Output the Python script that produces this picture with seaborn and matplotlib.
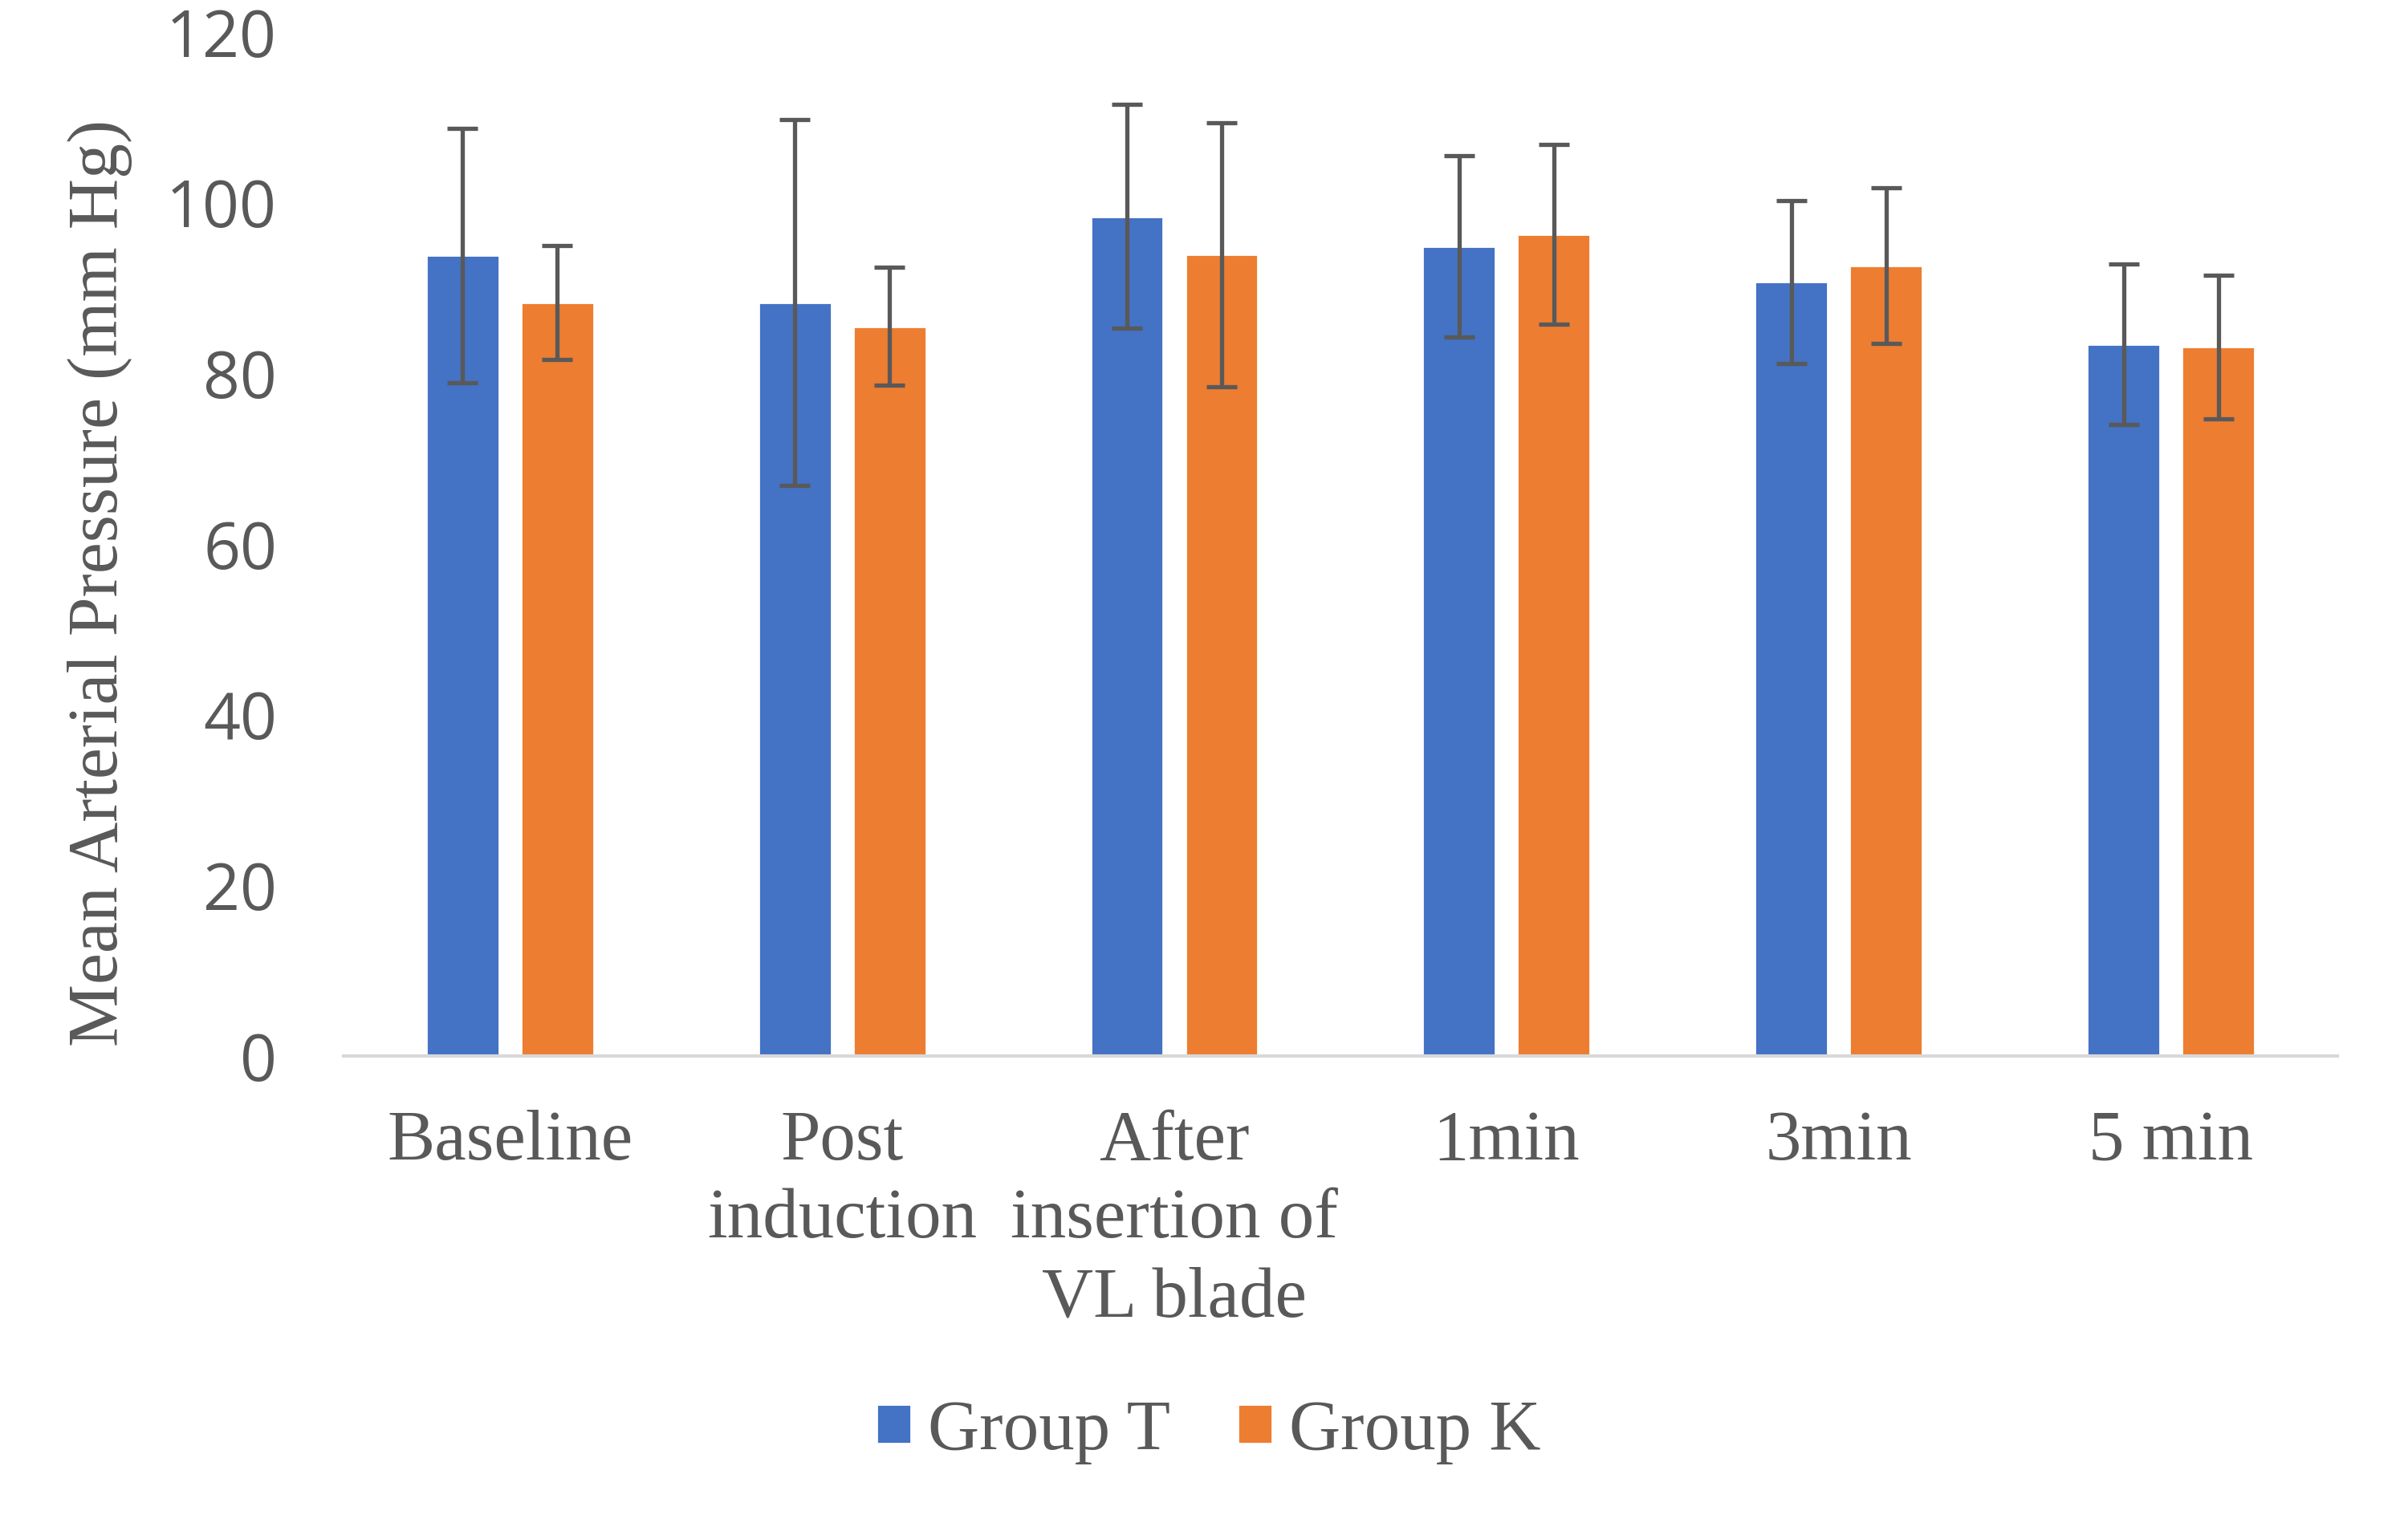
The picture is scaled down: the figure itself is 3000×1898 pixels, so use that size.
import matplotlib
matplotlib.use("Agg")
import matplotlib.pyplot as plt
import seaborn as sns
import pandas as pd

# ---- data ----
categories = ["Baseline", "Post\ninduction", "After\ninsertion of\nVL blade", "1min", "3min", "5 min"]
groups = ["Group T", "Group K"]
group_t_mean = [93.8, 88.3, 98.4, 94.9, 90.7, 83.4]
group_k_mean = [88.3, 85.5, 93.9, 96.3, 92.6, 83.1]
group_t_sd = [14.9, 21.4, 13.1, 10.6, 9.5, 9.4]
group_k_sd = [6.7, 6.9, 15.5, 10.5, 9.1, 8.4]
y_ticks = [0, 20, 40, 60, 80, 100, 120]
y_label = "Mean Arterial Pressure (mm Hg)"
colors = ["#4472C4", "#ED7D31"]

sns.set_style("white")
plt.rcParams["font.family"] = ["Liberation Serif", "DejaVu Serif"]

df = pd.DataFrame({
    "Time": categories * 2,
    "MAP": group_t_mean + group_k_mean,
    "Group": [groups[0]] * len(categories) + [groups[1]] * len(categories),
})

fig = plt.figure(figsize=(15, 9.49), dpi=200)
ax = fig.add_axes([0.1428, 0.3066, 0.8277, 0.6724])

sns.barplot(data=df, x="Time", y="MAP", hue="Group", order=categories,
            hue_order=groups, palette=colors, width=0.57, gap=0.23,
            errorbar=None, saturation=1, ax=ax, legend=True)

for container, means, sds in zip(ax.containers, [group_t_mean, group_k_mean],
                                  [group_t_sd, group_k_sd]):
    xs = [p.get_x() + p.get_width() / 2 for p in container]
    ax.errorbar(xs, means, yerr=sds, fmt="none", ecolor="#595959",
                elinewidth=1.9, capsize=6.8, capthick=1.9, zorder=5)

ax.set_ylim(0, 120)
ax.set_xlim(-0.5, len(categories) - 0.5)
ax.set_yticks(y_ticks)
ax.set_yticklabels([str(v) for v in y_ticks], fontfamily="Open Sans",
                   fontsize=29, color="#595959")
for lbl in ax.get_xticklabels():
    lbl.set_fontsize(32)
    lbl.set_color("#595959")
    lbl.set_multialignment("center")
    lbl.set_linespacing(1.27)
ax.tick_params(axis="y", length=0, pad=30)
ax.tick_params(axis="x", length=0, pad=24)
ax.set_xlabel("")
ax.set_ylabel(y_label, fontsize=31.6, color="#595959")
ax.yaxis.set_label_coords(-0.106, 0.462)

for s in ["left", "right", "top"]:
    ax.spines[s].set_visible(False)
ax.spines["bottom"].set_color("#D9D9D9")
ax.spines["bottom"].set_linewidth(1.5)

handles, labels = ax.get_legend_handles_labels()
ax.legend_.remove()
fig.legend(handles, labels, loc="center", bbox_to_anchor=(0.502, 0.0597),
           ncol=2, frameon=False, prop={"family": "Liberation Serif", "size": 32},
           labelcolor="#595959", handlelength=0.48, handleheight=0.48,
           handletextpad=0.24, columnspacing=0.94)

fig.savefig("out.png", dpi=200, facecolor="white")
